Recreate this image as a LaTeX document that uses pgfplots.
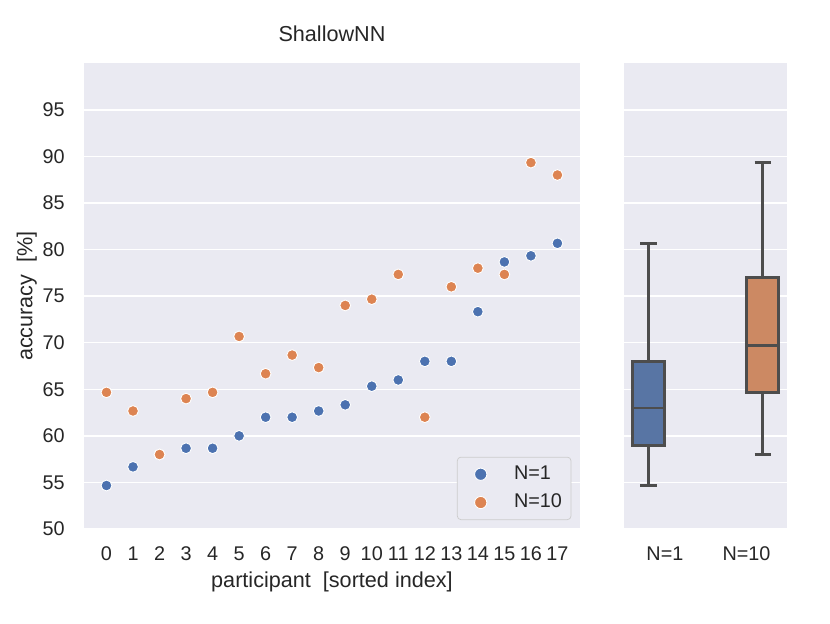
\documentclass[border=0pt]{standalone}
\usepackage{fontspec}
\setmainfont{Liberation Sans}
\usepackage{pgfplots}
\pgfplotsset{compat=1.18}
\definecolor{bgc}{HTML}{EAEAF2}
\definecolor{sblue}{HTML}{4C72B0}
\definecolor{sorange}{HTML}{DD8452}
\definecolor{bblue}{HTML}{5875A4}
\definecolor{borange}{HTML}{CC8963}
\definecolor{lgray}{HTML}{4D4D4D}
\definecolor{txt}{HTML}{262626}
\definecolor{legc}{HTML}{CCCCCC}
\begin{document}
\begin{tikzpicture}[font=\color{txt}]
\useasboundingbox (0,0) rectangle (460.8pt,345.9pt);
\pgfplotsset{
  common/.style={
    scale only axis,
    anchor=south west,
    height=258.6pt,
    ymin=50, ymax=100,
    ytick={50,55,...,95},
    axis background/.style={fill=bgc},
    axis line style={draw=none},
    major tick length=0pt,
    tick style={draw=none},
    ymajorgrids, xmajorgrids=false,
    grid style={white, line width=0.8pt},
    /pgf/number format/assume math mode=true,
    ticklabel style={font=\fontsize{11}{13}\selectfont\color{txt}},
    xticklabel style={inner sep=0pt, anchor=north, yshift=-9.8pt},
    yticklabel style={inner sep=0pt, anchor=east, xshift=-10.5pt},
  },
  myleg/.style={legend image code/.code={
    \path[draw=none,fill=none] (-10pt,-3pt) rectangle (16.5pt,3pt);
    \draw[##1, mark size=3.4pt] plot coordinates {(0pt,0pt)};}},
  bx/.style={draw=lgray, line width=1.5pt, line join=miter},
}
\begin{axis}[common,
  at={(46.6pt,52.2pt)},
  width=275.4pt,
  xmin=-0.85, xmax=17.85,
  xtick={0,1,...,17},
  title={ShallowNN},
  title style={at={(axis description cs:0.5,1)}, anchor=base, yshift=6.1pt, font=\fontsize{12}{14}\selectfont\color{txt}},
  xlabel={participant\ \ [sorted index]},
  ylabel={accuracy\ \ [\%]},
  every axis x label/.style={at={(axis description cs:0.5,-0.1245)}, anchor=base, font=\fontsize{12}{14}\selectfont\color{txt}},
  every axis y label/.style={at={(axis description cs:-0.104,0.5)}, rotate=90, anchor=base, font=\fontsize{12}{14}\selectfont\color{txt}},
  legend style={at={(1,0)}, anchor=south east, xshift=-4.8pt, yshift=5pt,
    draw=legc, fill=bgc, rounded corners=2pt, inner xsep=3pt, inner ysep=2.5pt,
    font=\fontsize{11}{13}\selectfont\color{txt}, row sep=1.7pt,
    nodes={inner sep=2pt, text height=8pt, text depth=2pt}},
  legend cell align=left,
]
\addplot[only marks, mark=*, mark size=3pt, mark options={fill=sblue, draw=white, line width=0.5pt}, myleg] coordinates {
(0,54.67) (1,56.67) (2,58) (3,58.67) (4,58.67) (5,60) (6,62) (7,62) (8,62.67)
(9,63.33) (10,65.33) (11,66) (12,68) (13,68) (14,73.33) (15,78.67) (16,79.33) (17,80.67)};
\addlegendentry{N=1}
\addplot[only marks, mark=*, mark size=3pt, mark options={fill=sorange, draw=white, line width=0.5pt}, myleg] coordinates {
(0,64.67) (1,62.67) (2,58) (3,64) (4,64.67) (5,70.67) (6,66.67) (7,68.67) (8,67.33)
(9,74) (10,74.67) (11,77.33) (12,62) (13,76) (14,78) (15,77.33) (16,89.33) (17,88)};
\addlegendentry{N=10}
\end{axis}
\begin{axis}[common,
  at={(346.5pt,52.2pt)},
  width=90.6pt,
  xmin=-0.5, xmax=1.5,
  xtick={0,1},
  xticklabels={N=1,N=10},
  yticklabels={},
]
% N=1 box (median 63, Q1 59, Q3 68, whiskers 54.67 / 80.67), at x=-0.2
\addplot[bx] coordinates {(-0.2,54.67) (-0.2,59)};
\addplot[bx] coordinates {(-0.2,68) (-0.2,80.67)};
\addplot[bx] coordinates {(-0.3,54.67) (-0.1,54.67)};
\addplot[bx] coordinates {(-0.3,80.67) (-0.1,80.67)};
\addplot[bx, fill=bblue] coordinates {(-0.396,59) (-0.004,59) (-0.004,68) (-0.396,68)} -- cycle;
\addplot[bx] coordinates {(-0.396,63) (-0.004,63)};
% N=10 box (median 69.67, Q1 64.67, Q3 77, whiskers 58 / 89.33), at x=1.2
\addplot[bx] coordinates {(1.2,58) (1.2,64.67)};
\addplot[bx] coordinates {(1.2,77) (1.2,89.33)};
\addplot[bx] coordinates {(1.1,58) (1.3,58)};
\addplot[bx] coordinates {(1.1,89.33) (1.3,89.33)};
\addplot[bx, fill=borange] coordinates {(1.004,64.67) (1.396,64.67) (1.396,77) (1.004,77)} -- cycle;
\addplot[bx] coordinates {(1.004,69.67) (1.396,69.67)};
\end{axis}
\end{tikzpicture}
\end{document}
